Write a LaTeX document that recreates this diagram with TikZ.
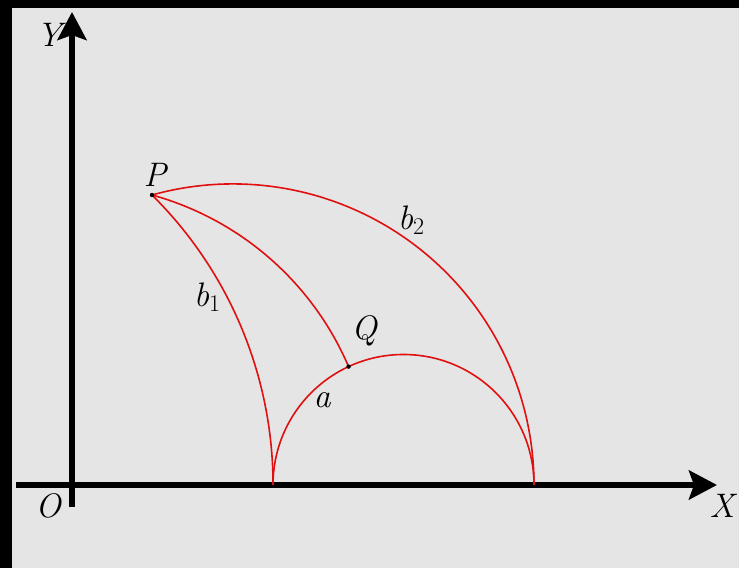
\documentclass[tikz,border=0pt]{standalone}
\usepackage{fontspec}
\usepackage{xcolor}
\usepackage{tikz}
\usetikzlibrary{arrows.meta}
\definecolor{paper}{HTML}{E5E5E5}
\definecolor{geored}{HTML}{E01010}
\newcommand{\lowidx}[1]{\raisebox{-0.35ex}{\fontsize{24}{28}\selectfont\upshape #1}}

\begin{document}
\begin{tikzpicture}[x=1pt,y=1pt,
    axis/.style={line width=6.5pt,-{Stealth[length=28pt,width=29pt,inset=5pt]}},
    geod/.style={geored,line width=1.6pt},
    lab/.style={font=\fontsize{34}{40}\selectfont\itshape,inner sep=0pt}]
  \useasboundingbox (0,0) rectangle (739,568);
  \fill[black] (0,0) rectangle (739,568);
  \fill[paper] (12,0) rectangle (739,560);

  \coordinate (O) at (72,83);
  \coordinate (P) at (152,373);
  \coordinate (Q) at (348.56,201.38);
  \coordinate (A1) at (273,83);
  \coordinate (A2) at (534,83);

  \draw[axis] (16,83) -- (717,83);
  \draw[axis] (72,61) -- (72,556);

  % geodesics
  \draw[geod] (A2) arc[start angle=0,end angle=180,radius=130.5];
  \draw[geod] (P) arc[start angle=45.30,end angle=0,radius=408];
  \draw[geod] (P) arc[start angle=105.59,end angle=0,radius=301.07];
  \draw[geod] (P) arc[start angle=74.58,end angle=23.17,radius=300.83];

  \fill (P) circle (2.2);
  \fill (Q) circle (2.2);

  \node[lab] (labY) at (49,533) {Y};
  \node[lab] (labO) at (48,62) {O};
  \node[lab] (labX) at (722,62) {X};
  \node[lab] (labP) at (155,393) {P};
  \node[lab] (labQ) at (364,237) {Q};
  \node[lab] (laba) at (322,168) {a};
  \node[lab] (labb1) at (207,271) {b\lowidx{1}};
  \node[lab] (labb2) at (411,348) {b\lowidx{2}};
\end{tikzpicture}
\end{document}
